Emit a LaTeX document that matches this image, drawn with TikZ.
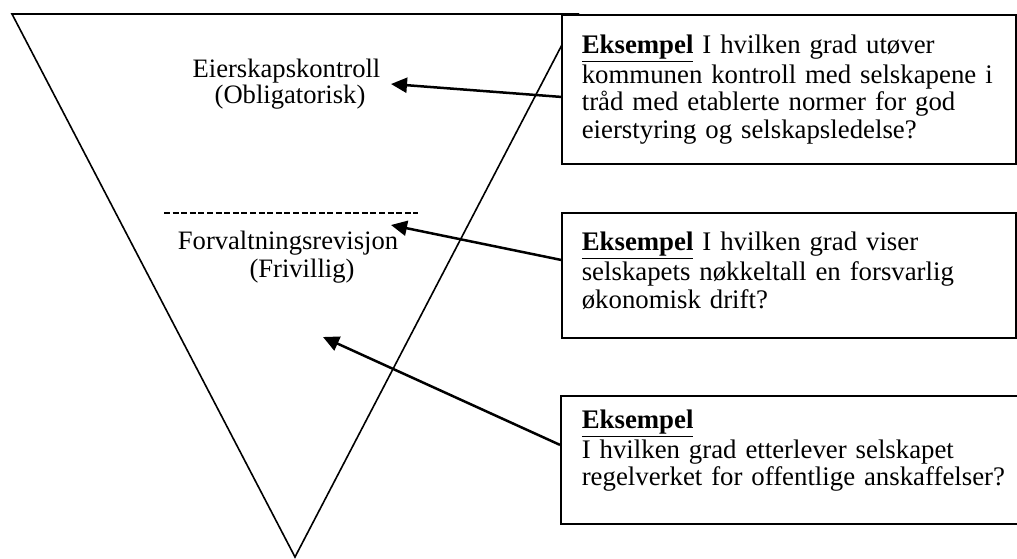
\documentclass[tikz,border=0pt]{standalone}
\usepackage{fontspec}
\setmainfont{Liberation Serif}
\usetikzlibrary{arrows.meta,calc}
\begin{document}
\begin{tikzpicture}[x=0.5pt,y=-0.5pt,
  line width=0.8pt,
  box/.style={draw, fill=white, line width=0.9pt, inner sep=0pt, anchor=north west},
  txt/.style={font=\fontsize{13.4pt}{13.8pt}\selectfont, inner sep=0pt, align=left, text width=215pt, anchor=base west},
  lbl/.style={font=\fontsize{13.3pt}{13.8pt}\selectfont, inner sep=0pt, anchor=base},
  arr/.style={-{Triangle[length=8pt,width=7.5pt]}, line width=1.25pt},
]
\useasboundingbox (0,0) rectangle (1017,558);
% inverted triangle
\draw (12,14) -- (578,14) -- (295,557) -- cycle;
% labels inside triangle
\node[lbl] (l1) at (286.5,77) {Eierskapskontroll};
\node[lbl] (l2) at (290,103) {(Obligatorisk)};
\draw[line width=0.75pt, dash pattern=on 3pt off 1.3pt] (164,213) -- (418,213);
\node[lbl] (l3) at (288,249) {Forvaltningsrevisjon};
\node[lbl] (l4) at (302,277) {(Frivillig)};
% boxes
\node[box, minimum width=227pt, minimum height=74.5pt] (b1) at (561,14) {};
\node[box, minimum width=227pt, minimum height=62.5pt] (b2) at (561,212) {};
\node[box, minimum width=235pt, minimum height=64pt] (b3) at (560,395) {};
\node[txt] (e1) at (581,53) {\underline{\textbf{Eksempel}} I hvilken grad utøver\\kommunen kontroll med selskapene i\\tråd med etablerte normer for god\\eierstyring og selskapsledelse?};
\node[txt] (e2) at (581,250) {\underline{\textbf{Eksempel}} I hvilken grad viser\\selskapets nøkkeltall en forsvarlig\\økonomisk drift?};
\node[txt] (e3) at (581,428) {\underline{\textbf{Eksempel}}\\I hvilken grad etterlever selskapet\\regelverket for offentlige anskaffelser?};
% arrow tips
\coordinate (t1) at (391,84);
\coordinate (t2) at (391,225);
\coordinate (t3) at (323,337);
\draw[arr] ([yshift=-3.75pt]b1.west) -- (t1);
\draw[arr] ([yshift=7.75pt]b2.west) -- (t2);
\draw[arr] ([yshift=7.5pt]b3.west) -- (t3);
\end{tikzpicture}
\end{document}
